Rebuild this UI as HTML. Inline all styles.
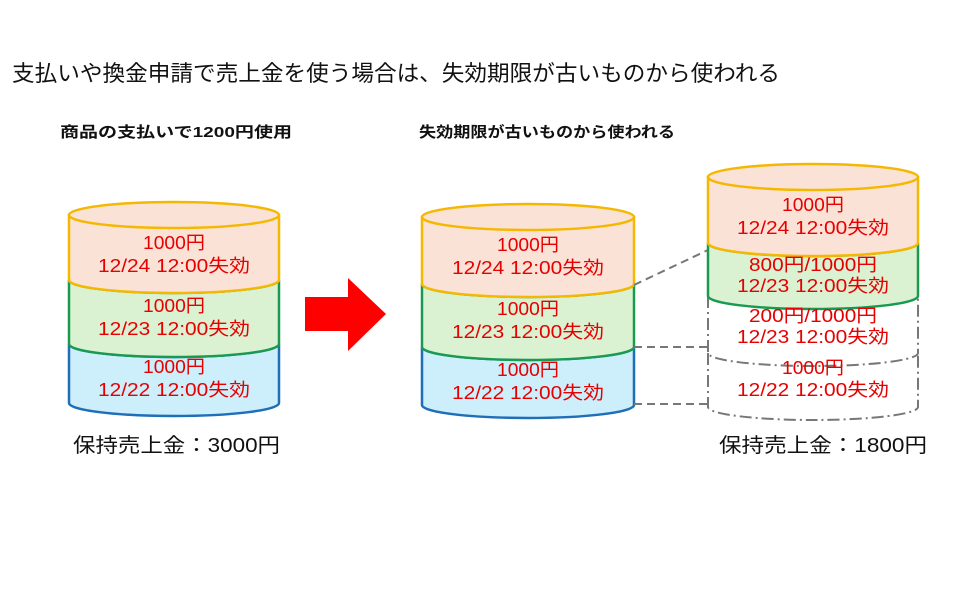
<!DOCTYPE html>
<html><head><meta charset="utf-8"><style>
html,body{margin:0;padding:0;background:#fff;}
svg{display:block;font-family:"Liberation Sans","Noto Sans CJK JP",sans-serif;}
.r{fill:#e60000;font-size:18px;text-anchor:middle;}
</style></head><body>
<svg width="977" height="599" viewBox="0 0 977 599" xmlns="http://www.w3.org/2000/svg">
<text x="12" y="81" font-size="22" fill="#111" textLength="768" lengthAdjust="spacingAndGlyphs">支払いや換金申請で売上金を使う場合は、失効期限が古いものから使われる</text>
<text x="60" y="137" font-size="15" font-weight="bold" fill="#111" textLength="232" lengthAdjust="spacingAndGlyphs">商品の支払いで1200円使用</text>
<text x="419" y="137" font-size="15" font-weight="bold" fill="#111" textLength="256" lengthAdjust="spacingAndGlyphs">失効期限が古いものから使われる</text>

<!-- Left cylinder -->
<g stroke-width="2.5">
<path d="M69,344 L69,403 A105,13 0 0 0 279,403 L279,344 A105,13 0 0 1 69,344 Z" fill="#cdeefb" stroke="#1f6fb8"/>
<path d="M69,280 L69,344 A105,13 0 0 0 279,344 L279,280 A105,13 0 0 1 69,280 Z" fill="#dbf2d2" stroke="#1a9a50"/>
<path d="M69,215 L69,280 A105,13 0 0 0 279,280 L279,215 Z" fill="#fbe2d7" stroke="#f5b800"/>
<ellipse cx="174" cy="215" rx="105" ry="13" fill="#fbe2d7" stroke="#f5b800"/>
</g>
<g lengthAdjust="spacingAndGlyphs">
<text class="r" x="174" y="249" textLength="62" lengthAdjust="spacingAndGlyphs">1000円</text><text class="r" x="174" y="272" textLength="152" lengthAdjust="spacingAndGlyphs">12/24 12:00失効</text>
<text class="r" x="174" y="312" textLength="62" lengthAdjust="spacingAndGlyphs">1000円</text><text class="r" x="174" y="335" textLength="152" lengthAdjust="spacingAndGlyphs">12/23 12:00失効</text>
<text class="r" x="174" y="373" textLength="62" lengthAdjust="spacingAndGlyphs">1000円</text><text class="r" x="174" y="396" textLength="152" lengthAdjust="spacingAndGlyphs">12/22 12:00失効</text>
</g>
<text x="73" y="452" font-size="20" fill="#111" textLength="207" lengthAdjust="spacingAndGlyphs">保持売上金：3000円</text>

<!-- Arrow -->
<polygon points="305,297 348,297 348,278 386,314 348,351 348,331 305,331" fill="#ff0000"/>

<!-- Middle cylinder -->
<g stroke-width="2.5">
<path d="M422,347 L422,405 A106,13 0 0 0 634,405 L634,347 A106,13 0 0 1 422,347 Z" fill="#cdeefb" stroke="#1f6fb8"/>
<path d="M422,284 L422,347 A106,13 0 0 0 634,347 L634,284 A106,13 0 0 1 422,284 Z" fill="#dbf2d2" stroke="#1a9a50"/>
<path d="M422,217 L422,284 A106,13 0 0 0 634,284 L634,217 Z" fill="#fbe2d7" stroke="#f5b800"/>
<ellipse cx="528" cy="217" rx="106" ry="13" fill="#fbe2d7" stroke="#f5b800"/>
</g>
<text class="r" x="528" y="251" textLength="62" lengthAdjust="spacingAndGlyphs">1000円</text><text class="r" x="528" y="274" textLength="152" lengthAdjust="spacingAndGlyphs">12/24 12:00失効</text>
<text class="r" x="528" y="315" textLength="62" lengthAdjust="spacingAndGlyphs">1000円</text><text class="r" x="528" y="338" textLength="152" lengthAdjust="spacingAndGlyphs">12/23 12:00失効</text>
<text class="r" x="528" y="376" textLength="62" lengthAdjust="spacingAndGlyphs">1000円</text><text class="r" x="528" y="399" textLength="152" lengthAdjust="spacingAndGlyphs">12/22 12:00失効</text>

<!-- connectors -->
<g stroke="#777" stroke-width="2" stroke-dasharray="8,5" fill="none">
<line x1="634" y1="285" x2="708" y2="250"/>
<polyline points="634,347 708,347"/>
<polyline points="634,404 708,404"/>
</g>

<!-- Right cylinder -->
<g stroke-width="2" fill="none" stroke="#777" stroke-dasharray="12,4,2,4">
<path d="M708,353 L708,407 A105,13 0 0 0 918,407 L918,353"/>
<path d="M708,296 L708,353 A105,13 0 0 0 918,353 L918,296"/>
</g>
<g stroke-width="2.5">
<path d="M708,243 L708,296 A105,13 0 0 0 918,296 L918,243 A105,13 0 0 1 708,243 Z" fill="#dbf2d2" stroke="#1a9a50"/>
<path d="M708,177 L708,243 A105,13 0 0 0 918,243 L918,177 Z" fill="#fbe2d7" stroke="#f5b800"/>
<ellipse cx="813" cy="177" rx="105" ry="13" fill="#fbe2d7" stroke="#f5b800"/>
</g>
<text class="r" x="813" y="211" textLength="62" lengthAdjust="spacingAndGlyphs">1000円</text><text class="r" x="813" y="234" textLength="152" lengthAdjust="spacingAndGlyphs">12/24 12:00失効</text>
<text class="r" x="813" y="271" textLength="128" lengthAdjust="spacingAndGlyphs">800円/1000円</text><text class="r" x="813" y="292" textLength="152" lengthAdjust="spacingAndGlyphs">12/23 12:00失効</text>
<text class="r" x="813" y="322" textLength="128" lengthAdjust="spacingAndGlyphs">200円/1000円</text><text class="r" x="813" y="343" textLength="152" lengthAdjust="spacingAndGlyphs">12/23 12:00失効</text>
<text class="r" x="813" y="374" textLength="62" lengthAdjust="spacingAndGlyphs">1000円</text><text class="r" x="813" y="396" textLength="152" lengthAdjust="spacingAndGlyphs">12/22 12:00失効</text>
<text x="719" y="452" font-size="20" fill="#111" textLength="208" lengthAdjust="spacingAndGlyphs">保持売上金：1800円</text>
</svg>
</body></html>
